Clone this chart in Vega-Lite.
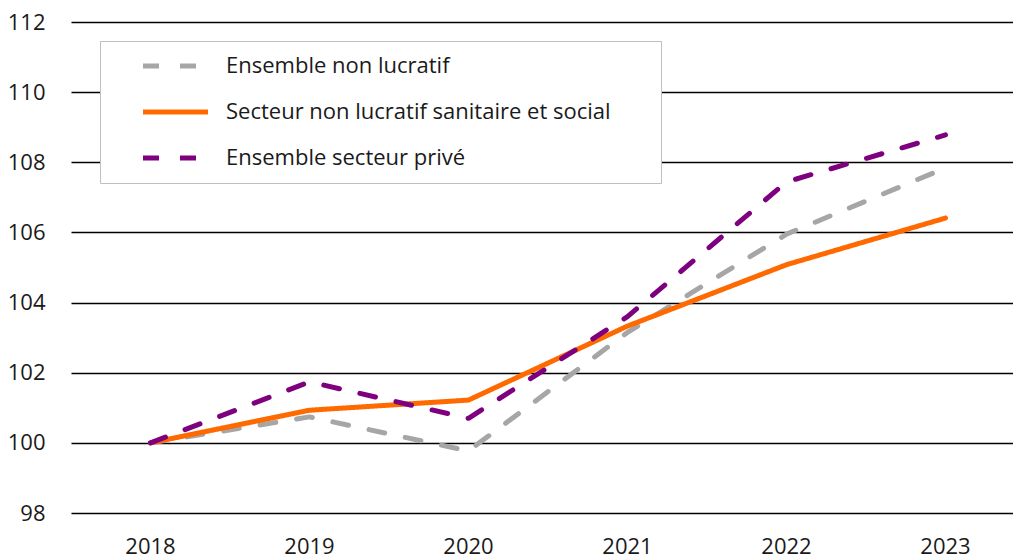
{
  "$schema": "https://vega.github.io/schema/vega-lite/v6.json",
  "width": 942,
  "height": 491,
  "autosize": {"type": "none"},
  "padding": {"left": 71, "top": 22, "right": 0, "bottom": 44},
  "background": "white",
  "config": {
    "view": {"stroke": null},
    "font": "Open Sans"
  },
  "data": {
    "values": [
      {"annee": "2018", "serie": "Ensemble non lucratif", "valeur": 100},
      {"annee": "2019", "serie": "Ensemble non lucratif", "valeur": 100.74},
      {"annee": "2020", "serie": "Ensemble non lucratif", "valeur": 99.77},
      {"annee": "2021", "serie": "Ensemble non lucratif", "valeur": 103.15},
      {"annee": "2022", "serie": "Ensemble non lucratif", "valeur": 105.95},
      {"annee": "2023", "serie": "Ensemble non lucratif", "valeur": 107.84},
      {"annee": "2018", "serie": "Secteur non lucratif sanitaire et social", "valeur": 100},
      {"annee": "2019", "serie": "Secteur non lucratif sanitaire et social", "valeur": 100.93},
      {"annee": "2020", "serie": "Secteur non lucratif sanitaire et social", "valeur": 101.22},
      {"annee": "2021", "serie": "Secteur non lucratif sanitaire et social", "valeur": 103.33},
      {"annee": "2022", "serie": "Secteur non lucratif sanitaire et social", "valeur": 105.08},
      {"annee": "2023", "serie": "Secteur non lucratif sanitaire et social", "valeur": 106.41},
      {"annee": "2018", "serie": "Ensemble secteur privé", "valeur": 100},
      {"annee": "2019", "serie": "Ensemble secteur privé", "valeur": 101.74},
      {"annee": "2020", "serie": "Ensemble secteur privé", "valeur": 100.7},
      {"annee": "2021", "serie": "Ensemble secteur privé", "valeur": 103.6},
      {"annee": "2022", "serie": "Ensemble secteur privé", "valeur": 107.44},
      {"annee": "2023", "serie": "Ensemble secteur privé", "valeur": 108.78}
    ]
  },
  "mark": {"type": "line", "strokeWidth": 5, "strokeCap": "round", "strokeJoin": "round"},
  "encoding": {
    "x": {
      "field": "annee", "type": "ordinal",
      "scale": {"type": "band", "range": [0, 954], "paddingInner": 0, "paddingOuter": 0},
      "axis": {"title": null, "labelAngle": 0, "labelFontSize": 22, "labelColor": "#1a1a1a", "domain": false, "ticks": false, "labelPadding": 23, "grid": false}
    },
    "y": {
      "field": "valeur", "type": "quantitative",
      "scale": {"domain": [98, 112], "nice": false, "zero": false},
      "axis": {"title": null, "values": [98, 100, 102, 104, 106, 108, 110, 112], "labelFontSize": 22, "labelColor": "#1a1a1a", "domain": false, "ticks": false, "labelPadding": 26, "gridColor": "black", "gridWidth": 1.5, "gridOpacity": 1}
    },
    "color": {
      "field": "serie", "type": "nominal",
      "scale": {
        "domain": ["Ensemble non lucratif", "Secteur non lucratif sanitaire et social", "Ensemble secteur privé"],
        "range": ["#a6a6a6", "#ff6a00", "#7f007f"]
      },
      "legend": {
        "title": ".", "titleOrient": "right", "titleColor": "white", "titleFontSize": 1, "titlePadding": 35,
        "orient": "none", "legendX": 29, "legendY": 19,
        "symbolType": "M-6.5,0H6.5", "symbolSize": 100, "symbolStrokeWidth": 5,
        "symbolOffset": 50.5,
        "labelFontSize": 22, "labelColor": "#1a1a1a", "labelOffset": 39.5, "labelLimit": 700,
        "rowPadding": 24, "padding": 14,
        "fillColor": "white", "strokeColor": "#bfbfbf"
      }
    },
    "strokeDash": {
      "field": "serie", "type": "nominal",
      "scale": {
        "domain": ["Ensemble non lucratif", "Secteur non lucratif sanitaire et social", "Ensemble secteur privé"],
        "range": [[16, 21], [1, 0], [16, 21]]
      },
      "legend": {
        "title": ".", "titleOrient": "right", "titleColor": "white", "titleFontSize": 1, "titlePadding": 35,
        "orient": "none", "legendX": 29, "legendY": 19,
        "symbolType": "M-6.5,0H6.5", "symbolSize": 100, "symbolStrokeWidth": 5,
        "symbolOffset": 50.5,
        "labelFontSize": 22, "labelColor": "#1a1a1a", "labelOffset": 39.5, "labelLimit": 700,
        "rowPadding": 24, "padding": 14,
        "fillColor": "white", "strokeColor": "#bfbfbf"
      }
    }
  }
}
